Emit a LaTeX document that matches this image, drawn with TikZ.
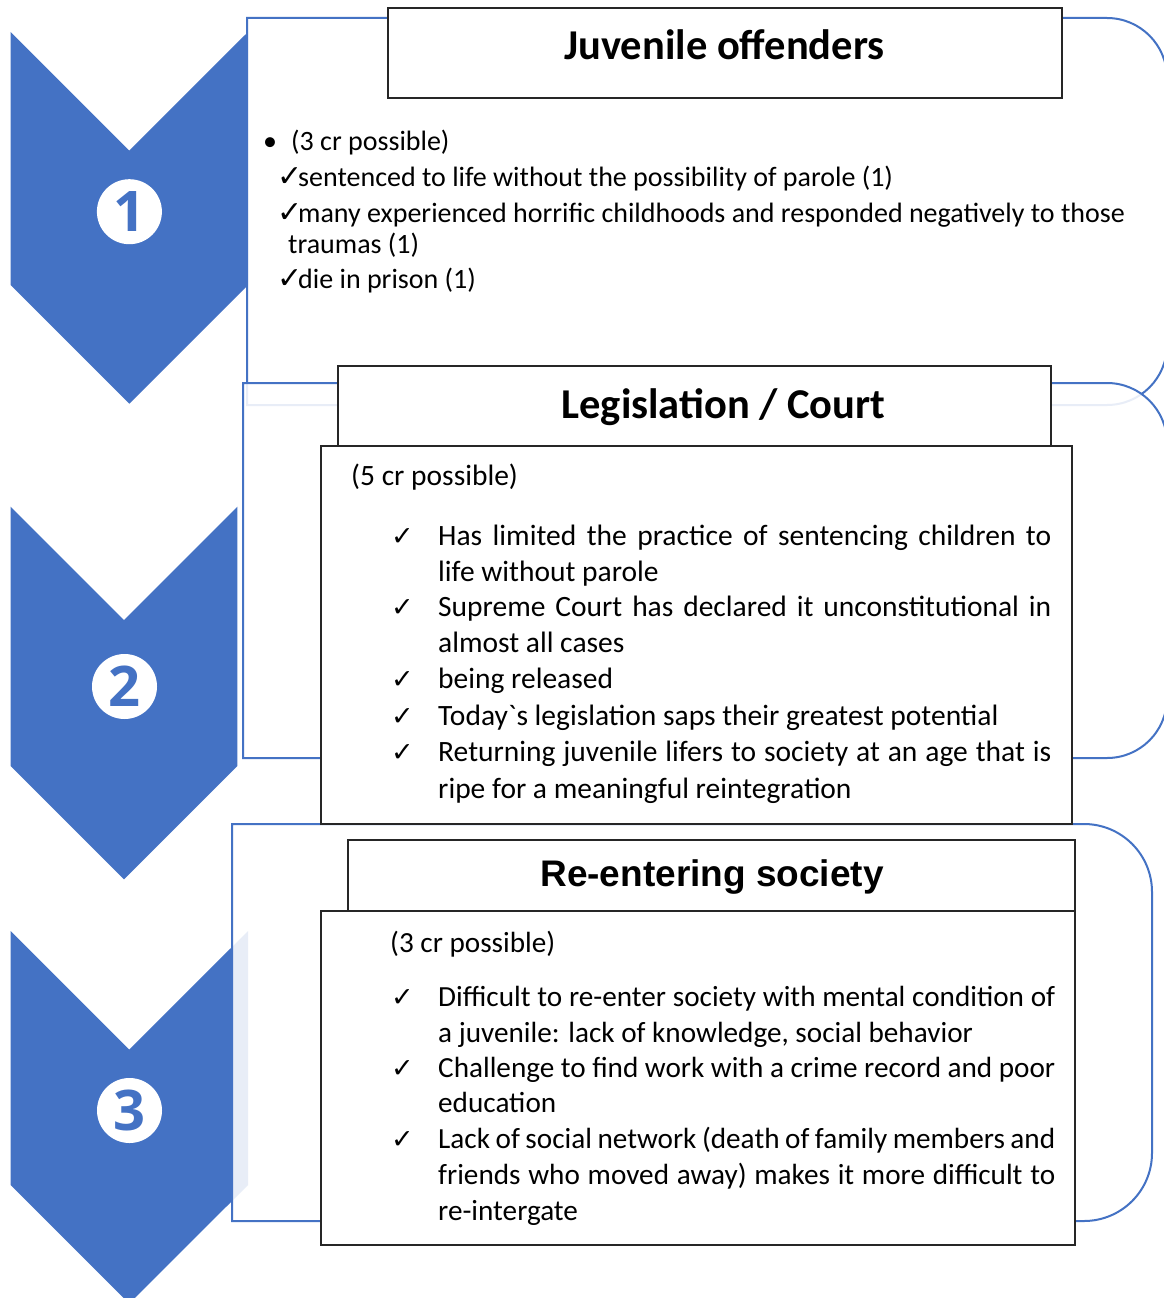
\documentclass[tikz,border=0pt]{standalone}
\usepackage{fontspec}
\setmainfont{Carlito}[Ligatures=TeXOff]
\newfontfamily\arialf{Liberation Sans}
\newfontfamily\dejavu{DejaVu Sans}
\newfontfamily\numf{Open Sans}
\definecolor{obl}{HTML}{4472C4}
\definecolor{boxc}{HTML}{262626}
\newcommand\jtwo[1]{\hbox to 613pt{#1}}
\newcommand\jthree[1]{\hbox to 617pt{#1}}
\begin{document}
\begin{tikzpicture}[x=1pt,y=-1pt,
  chev/.style={fill=obl, draw=none},
  frame/.style={draw=obl, line width=2pt, fill=white, fill opacity=0.88},
  tbox/.style={draw=boxc, line width=1.3pt, fill=white},
  txta/.style={anchor=base west, inner sep=0pt, font=\fontsize{28}{34}\selectfont},
  txt/.style={anchor=base west, inner sep=0pt, font=\fontsize{29.5}{35}\selectfont},
  txtc/.style={anchor=base west, inner sep=0pt, font=\fontsize{29.2}{35}\selectfont},
  chka/.style={anchor=base west, inner sep=0pt, font=\dejavu\fontsize{30}{34}\selectfont},
  chkb/.style={anchor=base west, inner sep=0pt, font=\dejavu\fontsize{27}{31}\selectfont},
  ttl/.style={anchor=base, inner sep=0pt, font=\bfseries\fontsize{42.5}{42.5}\selectfont},
  numc/.style={circle, fill=white, text=obl, minimum size=65pt, inner sep=0pt, font=\numf\bfseries\fontsize{56}{56}\selectfont}
]
\useasboundingbox (0,0) rectangle (1164,1298);
\fill[white] (0,0) rectangle (1164,1298);

% chevrons
\path[chev] (10.7,32) -- (129.3,150.6) -- (248,32) -- (248,285) -- (129.3,403.7) -- (10.7,285) -- cycle;
\path[chev] (10.7,506.7) -- (124,620) -- (237.3,506.7) -- (237.3,766) -- (124,879.3) -- (10.7,766) -- cycle;
\path[chev] (10.7,931) -- (129.3,1049.6) -- (248,931) -- (248,1185) -- (129.3,1303.6) -- (10.7,1185) -- cycle;

\node[numc] (n1) at (129.4,211.7) {1};
\node[numc] (n2) at (124.5,686.5) {2};
\node[numc] (n3) at (129.5,1110.5) {3};

% frames
\path[frame] (247,18) -- (1107,18) arc[start angle=90,end angle=0,radius=60pt] -- (1167,345) arc[start angle=0,end angle=-90,radius=60pt] -- (247,405) -- cycle;
\path[frame] (243,383) -- (1107,383) arc[start angle=90,end angle=0,radius=60pt] -- (1167,698) arc[start angle=0,end angle=-90,radius=60pt] -- (243,758) -- cycle;
\path[frame] (232,824) -- (1084,824) arc[start angle=90,end angle=0,radius=68pt] -- (1152,1153) arc[start angle=0,end angle=-90,radius=68pt] -- (232,1221) -- cycle;

% boxes
\draw[tbox] (388,8) rectangle (1062,98);
\draw[tbox] (338,366) rectangle (1051,446);
\draw[tbox] (321,446) rectangle (1072,824);
\draw[tbox] (348,840) rectangle (1075,911);
\draw[tbox] (321,911) rectangle (1075,1245);

% titles
\node[ttl] (h1) at (724.5,59.5) {Juvenile offenders};
\node[ttl] (h2) at (723.5,418) {Legislation / Court};
\node[ttl, font=\arialf\bfseries\fontsize{37}{37}\selectfont] (h3) at (712,886) {Re-entering society};

% section 1
\node[txta] (a0) at (263,150) {\textbullet};
\node[txta] (a1) at (291,150) {(3 cr possible)};
\node[chka] (ka2) at (277,186) {✓};
\node[txta] (a2) at (298,186) {sentenced to life without the possibility of parole (1)};
\node[chka] (ka3) at (277,222) {✓};
\node[txta] (a3) at (298,222) {many experienced horrific childhoods and responded negatively to those};
\node[txta] (a4) at (288,253) {traumas (1)};
\node[chka] (ka5) at (277,288) {✓};
\node[txta] (a5) at (298,288) {die in prison (1)};

% section 2
\node[txt] (b0) at (351,485) {(5 cr possible)};
\node[chkb] (kb1) at (391,545) {✓};
\node[txt] (b1) at (438,545) {\jtwo{Has limited the practice of sentencing children to}};
\node[txt] (b2) at (438,581) {life without parole};
\node[chkb] (kb3) at (391,616) {✓};
\node[txt] (b3) at (438,616) {\jtwo{Supreme Court has declared it unconstitutional in}};
\node[txt] (b4) at (438,652) {almost all cases};
\node[chkb] (kb5) at (391,688) {✓};
\node[txt] (b5) at (438,688) {being released};
\node[chkb] (kb6) at (391,725) {✓};
\node[txt] (b6) at (438,725) {Today`s legislation saps their greatest potential};
\node[chkb] (kb7) at (391,761) {✓};
\node[txt] (b7) at (438,761) {\jtwo{Returning juvenile lifers to society at an age that is}};
\node[txt] (b8) at (438,798) {ripe for a meaningful reintegration};

% section 3
\node[txtc] (c0) at (390,952) {(3 cr possible)};
\node[chkb] (kc1) at (391,1006) {✓};
\node[txtc] (c1) at (438,1006) {\jthree{Difficult to re-enter society with mental condition of}};
\node[txtc] (c2) at (438,1042) {a juvenile: lack of knowledge, social behavior};
\node[chkb] (kc3) at (391,1077) {✓};
\node[txtc] (c3) at (438,1077) {\jthree{Challenge to find work with a crime record and poor}};
\node[txtc] (c4) at (438,1112) {education};
\node[chkb] (kc5) at (391,1148) {✓};
\node[txtc] (c5) at (438,1148) {\jthree{Lack of social network (death of family members and}};
\node[txtc] (c6) at (438,1184) {\jthree{friends who moved away) makes it more difficult to}};
\node[txtc] (c7) at (438,1220) {re-intergate};
\end{tikzpicture}
\end{document}
